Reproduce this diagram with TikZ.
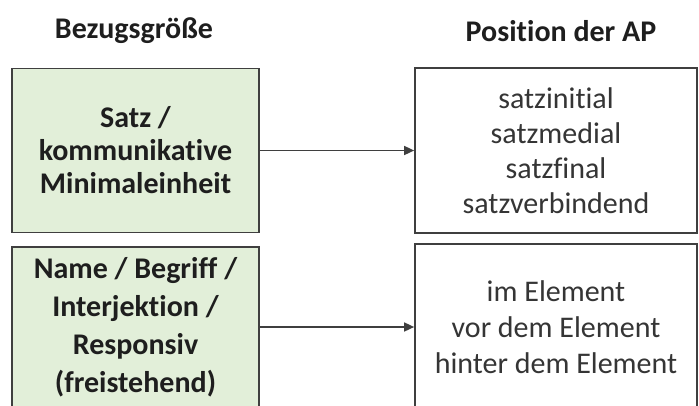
\documentclass[tikz,border=0pt]{standalone}
\usepackage{fontspec}
\setmainfont[Ligatures=NoCommon]{Carlito}
\usetikzlibrary{arrows.meta}
\definecolor{boxgreen}{HTML}{E2EFD9}
\definecolor{boxline}{HTML}{3F3F3F}
\definecolor{schrift}{HTML}{1E1E1E}
\begin{document}
\begin{tikzpicture}[x=1pt,y=-1pt,
	head/.style={text=schrift,font=\fontsize{30}{32}\selectfont\bfseries},
	bezug/.style={draw=boxline,line width=1.7pt,fill=boxgreen,text=schrift,minimum width=247pt,align=center,inner sep=0pt,font=\fontsize{30}{33}\selectfont\bfseries},
	position/.style={draw=boxline,line width=1.7pt,fill=white,text=schrift!90,minimum width=282pt,align=center,inner sep=0pt,font=\fontsize{30}{35}\selectfont},
	pfeil/.style={draw=boxline,line width=1.6pt,-{Triangle[length=10pt,width=9pt]}}]
	\useasboundingbox (0,0) rectangle (699,405);
	\clip (0,0) rectangle (699,405);
	
	\node[head] (bezugkopf) at (134,31) {Bezugsgröße};
	\node[head] (poskopf)   at (561,31) {Position der AP};
	
	\node[bezug,minimum height=164pt] (satz) at (135.5,150.5) {Satz /\\kommunikative\\Minimaleinheit};
	\node[bezug,minimum height=160pt,font=\fontsize{30}{38}\selectfont\bfseries] (name) at (135.5,327)
		{Name / Begriff /\\Interjektion /\\Responsiv\\(freistehend)};
	
	\node[position,minimum height=165pt] (satzpos) at (556,150.5) {satzinitial\\satzmedial\\satzfinal\\satzverbindend};
	\node[position,minimum height=166pt,font=\fontsize{30}{36}\selectfont] (elementpos) at (556,327)
		{im Element\\vor dem Element\\hinter dem Element};
	
	\draw[pfeil] (satz) -- (satzpos);
	\draw[pfeil] (name) -- (elementpos);
\end{tikzpicture}
\end{document}
